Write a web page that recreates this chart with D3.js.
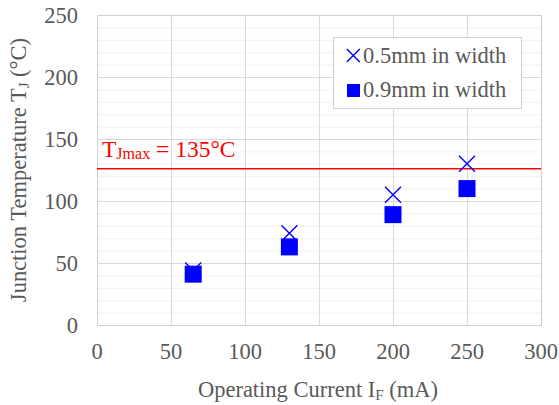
<!DOCTYPE html>
<html lang="en">
<head>
    <meta charset="UTF-8">
    <title>Junction Temperature vs Operating Current</title>
    <style>
        body { margin: 0; background: #fff; }
        svg { display: block; }
    </style>
</head>
<body>
    <div class="box"></div>
    <script src="https://d3js.org/d3.v7.min.js"></script>
    <script>
        // data
        const currents = [65, 130, 200, 250];
        const temp05 = [44, 74, 105, 130];
        const temp09 = [41, 63, 89, 110];
        const seriesNames = ["0.5mm in width", "0.9mm in width"];
        const xTicks = [0, 50, 100, 150, 200, 250, 300];
        const yTicks = [0, 50, 100, 150, 200, 250];
        const yMinorTicks = [10, 20, 30, 40, 60, 70, 80, 90, 110, 120, 130, 140, 160, 170, 180, 190, 210, 220, 230, 240];
        const tjMaxLine = 126;

        const width = 559, height = 405;
        const margin = { top: 15, right: 18, bottom: 80, left: 97 };
        const innerWidth = width - margin.left - margin.right;
        const innerHeight = height - margin.top - margin.bottom;
        const blue = "#0000ff";
        const textColor = "#595959";
        const serif = "Liberation Serif";
        const fontSize = 22.5;

        const svg = d3.select(".box").append("svg")
            .attr("width", width)
            .attr("height", height)
            .attr("font-family", serif);

        const box = svg.append("g")
            .attr("transform", `translate(${margin.left}, ${margin.top})`);

        const x = d3.scaleLinear().domain([0, 300]).range([0, innerWidth]);
        const y = d3.scaleLinear().domain([0, 250]).range([innerHeight, 0]);

        // minor grid (every 10)
        box.append("g").selectAll("line")
            .data(yMinorTicks)
            .join("line")
            .attr("x1", 0).attr("x2", innerWidth)
            .attr("y1", d => y(d) + 0.5).attr("y2", d => y(d) + 0.5)
            .attr("stroke", "#f0f0f0");

        // major grid
        box.append("g").selectAll("line")
            .data(yTicks)
            .join("line")
            .attr("x1", 0).attr("x2", innerWidth)
            .attr("y1", d => y(d) + 0.5).attr("y2", d => y(d) + 0.5)
            .attr("stroke", "#d9d9d9");
        box.append("g").selectAll("line")
            .data(xTicks)
            .join("line")
            .attr("x1", d => x(d) + 0.5).attr("x2", d => x(d) + 0.5)
            .attr("y1", 0).attr("y2", innerHeight)
            .attr("stroke", "#d9d9d9");

        // frame
        box.append("rect")
            .attr("x", 0.5).attr("y", 0.5)
            .attr("width", innerWidth).attr("height", innerHeight)
            .attr("fill", "none").attr("stroke", "#d0d0d0");

        // tick labels
        box.append("g").selectAll("text")
            .data(yTicks)
            .join("text")
            .attr("x", -19).attr("y", d => y(d))
            .attr("dy", "0.34em")
            .attr("text-anchor", "end")
            .attr("font-family", serif).attr("font-size", fontSize).attr("fill", textColor)
            .text(d => d);
        box.append("g").selectAll("text")
            .data(xTicks)
            .join("text")
            .attr("x", d => x(d)).attr("y", innerHeight + 34)
            .attr("text-anchor", "middle")
            .attr("font-family", serif).attr("font-size", fontSize).attr("fill", textColor)
            .text(d => d);

        // TJmax line
        box.append("line")
            .attr("x1", 0).attr("x2", innerWidth)
            .attr("y1", y(tjMaxLine)).attr("y2", y(tjMaxLine))
            .attr("stroke", "#ff0000").attr("stroke-width", 1.3);
        const tj = box.append("text")
            .attr("x", 5).attr("y", y(tjMaxLine) - 12)
            .attr("font-family", serif)
            .attr("fill", "#ff0000").attr("font-size", 23.5);
        tj.append("tspan").text("T");
        tj.append("tspan").attr("font-size", 16).attr("dy", 2.5).text("Jmax");
        tj.append("tspan").attr("dy", -2.5).text(" = 135°C");

        // markers
        const crossPath = (s) => `M${-s},${-s}L${s},${s}M${-s},${s}L${s},${-s}`;
        box.append("g").selectAll("path")
            .data(currents.map((c, i) => [c, temp05[i]]))
            .join("path")
            .attr("transform", d => `translate(${x(d[0])}, ${y(d[1])})`)
            .attr("d", crossPath(8))
            .attr("stroke", blue).attr("stroke-width", 1.4).attr("fill", "none");
        box.append("g").selectAll("rect")
            .data(currents.map((c, i) => [c, temp09[i]]))
            .join("rect")
            .attr("x", d => x(d[0]) - 8.5).attr("y", d => y(d[1]) - 8.5)
            .attr("width", 17).attr("height", 17)
            .attr("fill", blue);

        // legend
        const legend = svg.append("g").attr("transform", "translate(333, 37)");
        legend.append("rect")
            .attr("x", 0.5).attr("y", 0.5)
            .attr("width", 188).attr("height", 71)
            .attr("fill", "#fff").attr("stroke", "#d0d0d0");
        legend.append("path")
            .attr("transform", "translate(20.3, 18.5)")
            .attr("d", crossPath(6.5))
            .attr("stroke", blue).attr("stroke-width", 1.4).attr("fill", "none");
        legend.append("rect")
            .attr("x", 14).attr("y", 47).attr("width", 13).attr("height", 13)
            .attr("fill", blue);
        legend.selectAll(".lg-text")
            .data(seriesNames)
            .join("text")
            .attr("class", "lg-text")
            .attr("x", 30).attr("y", (d, i) => 26 + i * 34)
            .attr("font-family", serif)
            .attr("font-size", fontSize).attr("fill", textColor)
            .text(d => d);

        // axis titles
        const xt = svg.append("text")
            .attr("x", margin.left + innerWidth / 2 - 1).attr("y", 397)
            .attr("text-anchor", "middle")
            .attr("font-family", serif)
            .attr("font-size", fontSize).attr("fill", textColor);
        xt.append("tspan").text("Operating Current I");
        xt.append("tspan").attr("font-size", 15).attr("dy", 3).text("F");
        xt.append("tspan").attr("dy", -3).text(" (mA)");

        const yt = svg.append("text")
            .attr("transform", `translate(26, ${margin.top + innerHeight / 2}) rotate(-90)`)
            .attr("text-anchor", "middle")
            .attr("font-family", serif)
            .attr("font-size", fontSize).attr("fill", textColor);
        yt.append("tspan").text("Junction Temperature T");
        yt.append("tspan").attr("font-size", 15).attr("dy", 3).text("J");
        yt.append("tspan").attr("dy", -3).text(" (°C)");
    </script>
</body>
</html>
